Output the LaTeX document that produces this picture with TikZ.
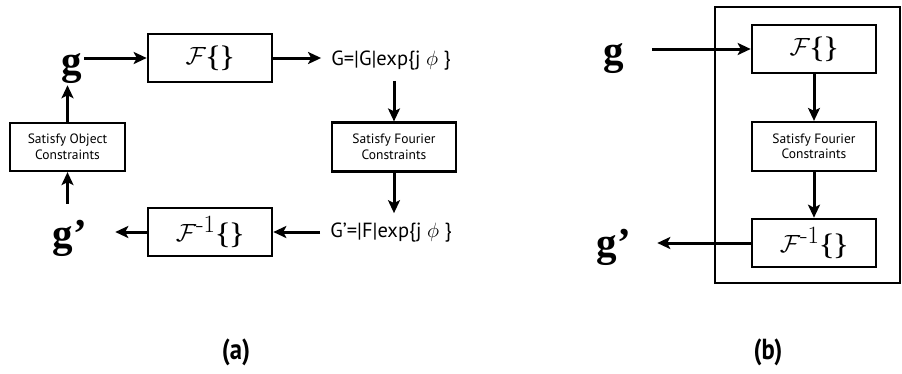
\documentclass[tikz,border=0pt]{standalone}
\usepackage{amsmath}
\usepackage{fontspec}
\setsansfont{PT Sans}
\newfontfamily\gfont{Liberation Serif}
\newfontfamily\capfont[FakeStretch=0.85]{PT Sans}
\usetikzlibrary{arrows.meta}
\tikzset{
  arr/.style={line width=3pt, -{Stealth[length=13pt,width=12pt,inset=3pt]}},
  fbox/.style={draw, line width=2.6pt, minimum width=124pt, minimum height=48pt, inner sep=0pt,
    font=\fontsize{36}{36}\selectfont},
  sbox/.style={draw, line width=2.2pt, minimum width=124pt, minimum height=49pt, inner sep=0pt,
    align=center, font=\sffamily\fontsize{13.5}{15.5}\selectfont},
  gsym/.style={inner sep=2pt, font=\gfont\bfseries\fontsize{41}{41}\selectfont},
  eqtext/.style={inner sep=10pt, font=\sffamily\fontsize{20.5}{20.5}\selectfont},
  sublabel/.style={font=\capfont\bfseries\fontsize{29}{29}\selectfont}
}
\begin{document}
\begin{tikzpicture}[x=1pt,y=-1pt]
\useasboundingbox (0,0) rectangle (902,373);
% ---------- (a) ----------
\node[gsym] (ga) at (72,68) {g};
\node[gsym] (gpa) at (70,238) {g’};
\node[fbox] (fa) at (210,58) {$\mathcal{F}\boldsymbol{\{\}}$};
\node[fbox] (fia) at (210,232) {$\mathcal{F}^{\text{-}1}\boldsymbol{\{\}}$};
\node[sbox, minimum width=115pt, minimum height=48pt] (soa) at (67.5,147) {Satisfy Object\\Constraints};
\node[sbox] (sfa) at (394,147) {Satisfy Fourier\\Constraints};
\node[eqtext] (Ga) at (391,61) {G=|G|exp\{j $\phi$ \}};
\node[eqtext] (Gpa) at (391,233) {G’=|F|exp\{j $\phi$ \}};
\draw[arr] (ga.east |- fa.west) -- (fa.west);
\draw[arr] (fa.east) -- (fa.east -| Ga.west);
\draw[arr] (Ga.south -| sfa.north) -- (sfa.north);
\draw[arr] (sfa.south) -- (sfa.south |- Gpa.north);
\draw[arr] (Gpa.west |- fia.east) -- (fia.east);
\draw[arr, shorten >=26pt] (fia.west) -- (fia.west -| gpa.east);
\draw[arr, shorten <=14pt] (gpa.north -| soa.south) -- (soa.south);
\draw[arr] (soa.north) -- (soa.north |- ga.south);
\node[sublabel] (la) at (236,352) {(a)};
% ---------- (b) ----------
\node[draw, line width=2.2pt, minimum width=185pt, minimum height=276pt, inner sep=0pt] (bb) at (807.5,145) {};
\node[gsym] (gb) at (613.5,58) {g};
\node[gsym] (gpb) at (614,247) {g’};
\node[fbox] (fb) at (814,49) {$\mathcal{F}\boldsymbol{\{\}}$};
\node[sbox] (sfb) at (814,146.5) {Satisfy Fourier\\Constraints};
\node[fbox] (fib) at (814,243) {$\mathcal{F}^{\text{-}1}\boldsymbol{\{\}}$};
\draw[arr, shorten <=26pt] (gb.east |- fb.west) -- (fb.west);
\draw[arr] (fb.south) -- (sfb.north);
\draw[arr] (sfb.south) -- (fib.north);
\draw[arr, shorten >=24pt] (fib.west) -- (fib.west -| gpb.east);
\node[sublabel] (lb) at (768,352) {(b)};
\end{tikzpicture}
\end{document}
